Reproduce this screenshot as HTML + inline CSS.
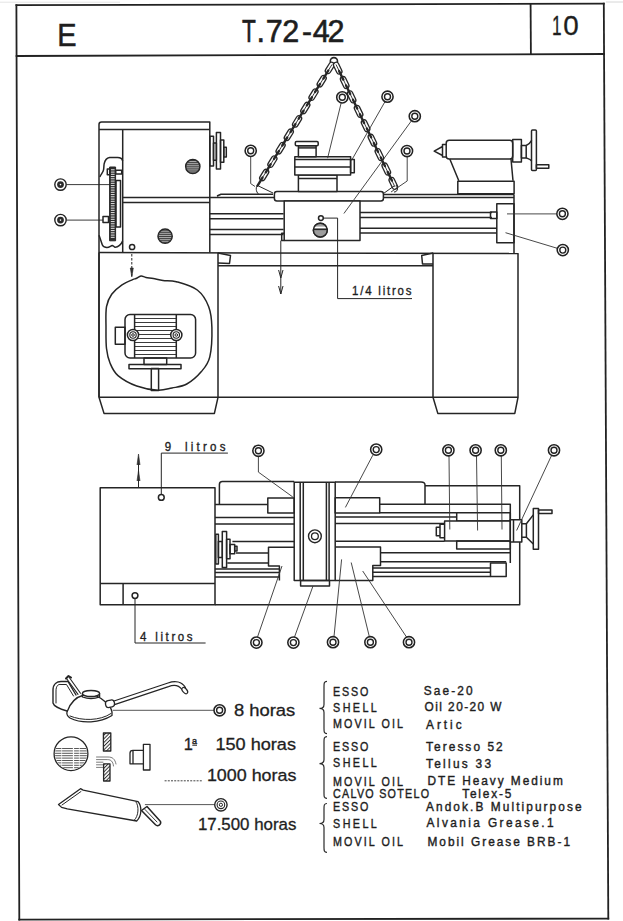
<!DOCTYPE html>
<html><head><meta charset="utf-8">
<style>
html,body{margin:0;padding:0;background:#fff;width:623px;height:921px;overflow:hidden}
svg{display:block}
text{font-family:"Liberation Sans",sans-serif;fill:#1e1e1e}
</style></head><body>
<svg width="623" height="921" viewBox="0 0 623 921">
<defs>
<g id="op"><circle r="5.6" fill="#fff" stroke="#222" stroke-width="1.55"/><circle r="3" fill="none" stroke="#222" stroke-width="1.4"/></g>
<g id="gp"><circle r="5.7" fill="#fff" stroke="#222" stroke-width="1.4"/><circle r="3.4" fill="#2a2a2a"/><circle r="0.8" fill="#fff"/></g>
<clipPath id="c1"><circle cx="192.8" cy="166.5" r="7"/></clipPath>
<clipPath id="c2"><circle cx="165.1" cy="236.2" r="7"/></clipPath>
<pattern id="hd" width="2.6" height="2.6" patternUnits="userSpaceOnUse" patternTransform="rotate(-45)"><rect width="2.6" height="1.0" fill="#333"/></pattern>
<clipPath id="c3"><circle cx="320.3" cy="230.2" r="6.8"/></clipPath>
</defs>
<rect width="623" height="921" fill="#fff"/>
<g fill="none" stroke="#222" stroke-width="1.8" stroke-linecap="square">
<path d="M16.4,5.2 L603.8,3.6"/>
<path d="M16.4,5.2 L19.3,919.6"/>
<path d="M603.8,3.6 L608.3,918.6"/>
<path d="M19.3,919.6 L608.3,918.6"/>
<path d="M16.6,56 L604,54"/>
<path d="M530.6,3.8 L530.9,54.2"/>
</g>
<path d="M0,2.2 H120" stroke="#ddd" stroke-width="0.8"/>
<path d="M606,2 H623" stroke="#ccc" stroke-width="0.8"/>

<text transform="translate(57.32,45.6) scale(0.95,1)" font-size="30.5" stroke="#1e1e1e" stroke-width="0.5">E</text>
<text transform="translate(241.89,42.4) scale(0.72,1)" font-size="31.5" stroke="#1e1e1e" stroke-width="0.6">T</text>
<text transform="translate(256.41,42.4) scale(0.97,1)" font-size="31.5" stroke="#1e1e1e" stroke-width="0.6">.</text>
<text transform="translate(265.73,42.4) scale(0.97,1)" font-size="31.5" stroke="#1e1e1e" stroke-width="0.6">7</text>
<text transform="translate(282.36,42.4) scale(0.97,1)" font-size="31.5" stroke="#1e1e1e" stroke-width="0.6">2</text>
<text transform="translate(301.97,42.4) scale(0.95,1)" font-size="31.5" stroke="#1e1e1e" stroke-width="0.6">-</text>
<text transform="translate(312.70,42.4) scale(0.97,1)" font-size="31.5" stroke="#1e1e1e" stroke-width="0.6">4</text>
<text transform="translate(327.56,42.4) scale(0.97,1)" font-size="31.5" stroke="#1e1e1e" stroke-width="0.6">2</text>
<text transform="translate(551.99,35.2) scale(0.62,1)" font-size="27.8" stroke="#1e1e1e" stroke-width="0.3">1</text>
<text transform="translate(563.21,35.2) scale(1.0,1)" font-size="27.8" stroke="#1e1e1e" stroke-width="0.3">0</text>
<g fill="none" stroke="#252525" stroke-width="1.5" stroke-linejoin="round">
<path d="M99,397 V124.5 Q99,122 101.5,122 H209.8 V252.6"/>
<path d="M99,129.4 H209.8 M122.7,129.4 V252.6 M122.5,197.5 H209.8 M122.5,202.5 H209.8"/>
<circle cx="192.8" cy="166.5" r="7.1" fill="#a8a8a8"/>
<g clip-path="url(#c1)" stroke="#333"><path d="M184.8,160.5H200.8M184.8,162.6H200.8M184.8,164.7H200.8M184.8,166.8H200.8M184.8,168.9H200.8M184.8,171.0H200.8M184.8,173.1H200.8" stroke-width="0.9"/></g>
<circle cx="165.1" cy="236.2" r="7.1" fill="#a8a8a8"/>
<g clip-path="url(#c2)" stroke="#333"><path d="M157.1,230.2H173.1M157.1,232.3H173.1M157.1,234.4H173.1M157.1,236.5H173.1M157.1,238.6H173.1M157.1,240.7H173.1M157.1,242.8H173.1" stroke-width="0.9"/></g>
<circle cx="132.1" cy="247" r="2.6"/>
<path d="M131.8,254 V276" stroke-width="1.0" stroke-dasharray="2.5 1.5"/><path d="M131.8,277 L130.3,268 L133.3,268 Z" fill="#333" stroke-width="0.6"/>
<path d="M99.8,177 C101,174 103.4,172 103.6,169.6 C104,167 103.8,165 104.2,163.6 C105,160 107,158 109.6,157.5 H117.6 C120.5,157.5 122.3,159 122.6,161 M122.6,241 C121.5,244 118,247.5 114.9,247.2 C113.5,246.8 113,245.3 112.3,245.5 C110.5,246 109,247.8 106.6,247.5 C104,247 102.5,246 102.1,244.3 C101,241 100,238 99,235.3"/>
<rect x="109.6" y="167" width="6" height="73.8" fill="#2e2e2e" stroke-width="1.0"/>
<g stroke="#fff"><path d="M110.8,169.8H114.6M110.8,172.1H114.6M110.8,174.3H114.6M110.8,176.6H114.6M110.8,178.8H114.6M110.8,181.1H114.6M110.8,183.3H114.6M110.8,185.6H114.6M110.8,187.8H114.6M110.8,190.1H114.6M110.8,192.3H114.6M110.8,194.6H114.6M110.8,196.8H114.6M110.8,199.1H114.6M110.8,201.3H114.6M110.8,203.6H114.6M110.8,205.8H114.6M110.8,208.1H114.6M110.8,210.3H114.6M110.8,212.6H114.6M110.8,214.8H114.6M110.8,217.1H114.6M110.8,219.3H114.6M110.8,221.6H114.6M110.8,223.8H114.6M110.8,226.1H114.6M110.8,228.3H114.6M110.8,230.6H114.6M110.8,232.8H114.6M110.8,235.1H114.6M110.8,237.3H114.6" stroke-width="0.9"/></g>
<rect x="107.3" y="168.9" width="2.7" height="5.8"/><rect x="115.7" y="170.2" width="6" height="3.8"/>
<rect x="116" y="180.5" width="4.5" height="46.5"/>
<rect x="103" y="216.5" width="5.5" height="6"/>
<path d="M66.5,184.6 H110 M66.5,220.1 H103" stroke-width="0.9"/>
<rect x="209.9" y="136.2" width="3.6" height="29.9"/><rect x="213.5" y="143" width="2.9" height="17.3"/><rect x="216.4" y="132.4" width="4.1" height="36.6"/><rect x="220.5" y="140.1" width="3.3" height="22.1"/><rect x="223.8" y="147.2" width="2.5" height="9.9"/>
<path d="M209.8,197.6 H275 M217,196 L221,194.2 H273"/>
<path d="M209.8,213.7 H283.6 M209.8,218.7 H283.6 M209.8,229.4 H283.6 M209.8,234.4 H283.6"/>
<path d="M360,212.6 H492 M360,217.6 H492 M360,228.3 H497 M360,232.9 H497"/>
<path d="M383,194.5 H514 M383,197.4 H514 M514,194.5 V253.5"/>
<rect x="496.8" y="203.8" width="17.2" height="39"/>
<rect x="490.5" y="212" width="6.3" height="6.5"/>
<path d="M99,252.6 L518.5,253.5"/>
<rect x="274.4" y="191.6" width="109" height="9.4" rx="2.5" fill="#fff"/>
<rect x="284.2" y="201" width="75.8" height="39.6" fill="#fff"/>
<path d="M284.2,233.3 H281.7 V240.6 H284.2"/>
<rect x="298.4" y="174.9" width="38.6" height="16.7" fill="#fff"/><path d="M298.4,178.4 H337"/>
<rect x="294.8" y="156.7" width="55.8" height="18.2" fill="#fff"/><path d="M294.8,159.5 H350.6 M294.8,167.1 H350.6"/>
<rect x="350.6" y="159.6" width="3.7" height="13.2"/>
<rect x="298.4" y="145.7" width="17.7" height="11"/><path d="M298.4,147.9 H316.1"/>
<rect x="295.3" y="141.5" width="22.9" height="4.2" rx="1.2" fill="#fff"/>
<circle cx="320.9" cy="218.1" r="2.4"/>
<circle cx="320.3" cy="230.2" r="6.9" fill="#fff"/>
<circle cx="320.3" cy="230.2" r="6.9" fill="#9c9c9c" stroke="none"/><rect x="312" y="226.6" width="17" height="1.6" fill="#fff" stroke="none"/><path d="M313,229.4 H328" stroke-width="1.4"/><circle cx="320.3" cy="230.2" r="6.9"/>
<path d="M323.5,218.1 H337.6 V298.6 H412" stroke-width="1.0"/>
<path d="M280.8,240.6 V294 M278.6,270 L280.8,278 L283,270 M278.6,286 L280.8,294 L283,286" stroke-width="1.0"/>
<rect x="446.2" y="140.2" width="66.5" height="18.8" rx="3"/>
<path d="M446.2,144.5 H442.5 V157 H446.2 M442.5,146.5 L434.2,151.2 L442.5,155.5"/>
<rect x="512.7" y="139.6" width="8.7" height="22.4"/>
<rect x="521.4" y="145.5" width="4.8" height="12.4"/>
<path d="M526.2,145.5 C529,144.5 530.5,142.5 531.7,140.4 M526.2,157.9 C529,159 530.5,159.5 531.7,161"/>
<rect x="531.5" y="130" width="4.9" height="40.6" rx="1"/>
<rect x="536.4" y="164.8" width="12.4" height="3.5"/>
<path d="M449.8,159 L458.8,180.8 M511,159 L513,180.8"/>
<rect x="457.8" y="181.3" width="56.3" height="12.4"/>
<path d="M99,252.6 V397.3 H218 V252.8 M218,265.7 H433 M433,252.8 V397.3 H518 V253.5 M218,397.3 H433"/>
<path d="M99,397.3 L104,413.4 H214.4 L218,397.3 M433,397.3 L437.8,413.4 H514.8 L518,397.3"/>
<path d="M218,253 L230.5,255.5 L229.5,263.5 L218,263 M433,253 L421.7,255.5 L422.5,264 L433,264"/>
<path d="M106.5,306.7 C105.5,312.3 106.0,321.0 106.0,328.0 C106.0,335.0 105.8,342.7 106.5,348.5 C107.2,354.3 108.1,358.5 110.0,363.0 C111.9,367.5 113.5,371.8 118.0,375.6 C122.5,379.4 130.1,383.6 136.7,386.0 C143.3,388.4 151.7,389.9 157.6,390.2 C163.5,390.5 167.1,389.0 172.0,388.0 C176.9,387.0 181.9,386.8 186.8,384.0 C191.7,381.2 197.6,376.0 201.4,371.5 C205.2,367.0 208.1,364.1 209.8,356.8 C211.6,349.5 212.1,336.0 211.9,327.6 C211.7,319.2 211.1,313.0 208.7,306.7 C206.3,300.4 202.7,294.2 197.3,290.0 C191.9,285.8 182.1,283.3 176.4,281.7 C170.7,280.1 166.8,281.0 163.0,280.5 C159.2,280.0 156.2,279.1 153.4,278.6 C150.6,278.1 148.1,277.9 146.0,277.5 C143.9,277.1 142.7,275.8 141.0,276.0 C139.3,276.2 137.4,277.9 136.0,278.5 C134.6,279.1 134.9,278.6 132.6,279.6 C130.3,280.7 125.5,282.4 122.0,284.8 C118.5,287.2 114.3,290.6 111.7,294.2 C109.1,297.8 107.5,301.1 106.5,306.7Z"/>
<rect x="125" y="314.5" width="70.6" height="43.5" rx="5" fill="#fff"/>
<rect x="115.3" y="327.3" width="9.7" height="17"/>
<path d="M134.6,318.5H176.3M134.6,322.5H176.3M134.6,326.5H176.3M134.6,330.5H176.3M134.6,334.5H176.3M134.6,338.5H176.3M134.6,342.5H176.3M134.6,346.5H176.3M134.6,350.5H176.3M134.6,354.5H176.3" stroke-width="0.9"/>
<path d="M134.6,314.5 V358 M176.3,314.5 V358"/>
<circle cx="133" cy="335" r="5.6" fill="#fff"/><circle cx="133" cy="335" r="3.2" stroke-width="1.1"/><circle cx="133" cy="335" r="1.3" stroke-width="1.0"/><circle cx="176.3" cy="335" r="5.6" fill="#fff"/><circle cx="176.3" cy="335" r="3.2" stroke-width="1.1"/><circle cx="176.3" cy="335" r="1.3" stroke-width="1.0"/>
<rect x="144" y="358" width="22.7" height="6.6"/><rect x="129" y="364.4" width="52" height="4.3"/><rect x="151.3" y="368.4" width="7.3" height="22"/>
</g>
<g fill="none" stroke="#262626" stroke-width="1.1">
<circle cx="333.9" cy="61.2" r="3.6" stroke-width="1.6"/>
<rect x="323.9" y="65.1" width="12.2" height="5.4" rx="2.6" stroke-width="1.3" fill="#fff" transform="rotate(121.6 329.9 67.8)"/>
<path d="M332.0,64.5 L327.9,71.2" stroke-width="0.9"/>
<rect x="315.6" y="78.5" width="12.2" height="5.4" rx="2.6" stroke-width="1.3" fill="#fff" transform="rotate(121.6 321.7 81.2)"/>
<path d="M323.8,77.9 L319.7,84.6" stroke-width="0.9"/>
<rect x="307.4" y="91.9" width="12.2" height="5.4" rx="2.6" stroke-width="1.3" fill="#fff" transform="rotate(121.6 313.5 94.6)"/>
<path d="M315.5,91.3 L311.5,97.9" stroke-width="0.9"/>
<rect x="299.2" y="105.3" width="12.2" height="5.4" rx="2.6" stroke-width="1.3" fill="#fff" transform="rotate(121.6 305.3 108.0)"/>
<path d="M307.3,104.7 L303.2,111.3" stroke-width="0.9"/>
<rect x="291.0" y="118.7" width="12.2" height="5.4" rx="2.6" stroke-width="1.3" fill="#fff" transform="rotate(121.6 297.1 121.4)"/>
<path d="M299.1,118.1 L295.0,124.7" stroke-width="0.9"/>
<rect x="282.7" y="132.1" width="12.2" height="5.4" rx="2.6" stroke-width="1.3" fill="#fff" transform="rotate(121.6 288.8 134.8)"/>
<path d="M290.9,131.5 L286.8,138.1" stroke-width="0.9"/>
<rect x="274.5" y="145.5" width="12.2" height="5.4" rx="2.6" stroke-width="1.3" fill="#fff" transform="rotate(121.6 280.6 148.2)"/>
<path d="M282.7,144.9 L278.6,151.5" stroke-width="0.9"/>
<rect x="266.3" y="158.9" width="12.2" height="5.4" rx="2.6" stroke-width="1.3" fill="#fff" transform="rotate(121.6 272.4 161.6)"/>
<path d="M274.4,158.2 L270.3,164.9" stroke-width="0.9"/>
<rect x="258.1" y="172.3" width="12.2" height="5.4" rx="2.6" stroke-width="1.3" fill="#fff" transform="rotate(121.6 264.2 175.0)"/>
<path d="M266.2,171.6 L262.1,178.3" stroke-width="0.9"/>
<path d="M328.3,70.5 L323.4,78.6" stroke-width="2.4" stroke-linecap="round"/>
<path d="M320.1,83.9 L315.1,91.9" stroke-width="2.4" stroke-linecap="round"/>
<path d="M311.9,97.3 L306.9,105.3" stroke-width="2.4" stroke-linecap="round"/>
<path d="M303.6,110.7 L298.7,118.7" stroke-width="2.4" stroke-linecap="round"/>
<path d="M295.4,124.1 L290.5,132.1" stroke-width="2.4" stroke-linecap="round"/>
<path d="M287.2,137.5 L282.3,145.5" stroke-width="2.4" stroke-linecap="round"/>
<path d="M279.0,150.9 L274.0,158.9" stroke-width="2.4" stroke-linecap="round"/>
<path d="M270.7,164.2 L265.8,172.3" stroke-width="2.4" stroke-linecap="round"/>
<path d="M262.5,177.6 L257.6,185.7" stroke-width="2.4" stroke-linecap="round"/>
<rect x="331.5" y="65.4" width="12.4" height="5.4" rx="2.6" stroke-width="1.3" fill="#fff" transform="rotate(64.3 337.7 68.1)"/>
<path d="M336.0,64.5 L339.5,71.7" stroke-width="0.9"/>
<rect x="338.5" y="79.8" width="12.4" height="5.4" rx="2.6" stroke-width="1.3" fill="#fff" transform="rotate(64.3 344.7 82.5)"/>
<path d="M343.0,78.9 L346.4,86.1" stroke-width="0.9"/>
<rect x="345.4" y="94.2" width="12.4" height="5.4" rx="2.6" stroke-width="1.3" fill="#fff" transform="rotate(64.3 351.6 96.9)"/>
<path d="M349.9,93.4 L353.3,100.5" stroke-width="0.9"/>
<rect x="352.4" y="108.6" width="12.4" height="5.4" rx="2.6" stroke-width="1.3" fill="#fff" transform="rotate(64.3 358.6 111.3)"/>
<path d="M356.8,107.8 L360.3,114.9" stroke-width="0.9"/>
<rect x="359.3" y="123.0" width="12.4" height="5.4" rx="2.6" stroke-width="1.3" fill="#fff" transform="rotate(64.3 365.5 125.8)"/>
<path d="M363.8,122.2 L367.2,129.3" stroke-width="0.9"/>
<rect x="366.2" y="137.5" width="12.4" height="5.4" rx="2.6" stroke-width="1.3" fill="#fff" transform="rotate(64.3 372.4 140.2)"/>
<path d="M370.7,136.6 L374.2,143.7" stroke-width="0.9"/>
<rect x="373.2" y="151.9" width="12.4" height="5.4" rx="2.6" stroke-width="1.3" fill="#fff" transform="rotate(64.3 379.4 154.6)"/>
<path d="M377.7,151.0 L381.1,158.1" stroke-width="0.9"/>
<rect x="380.1" y="166.3" width="12.4" height="5.4" rx="2.6" stroke-width="1.3" fill="#fff" transform="rotate(64.3 386.3 169.0)"/>
<path d="M384.6,165.4 L388.0,172.6" stroke-width="0.9"/>
<rect x="387.1" y="180.7" width="12.4" height="5.4" rx="2.6" stroke-width="1.3" fill="#fff" transform="rotate(64.3 393.3 183.4)"/>
<path d="M391.5,179.8 L395.0,187.0" stroke-width="0.9"/>
<path d="M339.1,71.0 L343.3,79.6" stroke-width="2.4" stroke-linecap="round"/>
<path d="M346.1,85.4 L350.2,94.0" stroke-width="2.4" stroke-linecap="round"/>
<path d="M353.0,99.8 L357.2,108.5" stroke-width="2.4" stroke-linecap="round"/>
<path d="M359.9,114.2 L364.1,122.9" stroke-width="2.4" stroke-linecap="round"/>
<path d="M366.9,128.6 L371.1,137.3" stroke-width="2.4" stroke-linecap="round"/>
<path d="M373.8,143.0 L378.0,151.7" stroke-width="2.4" stroke-linecap="round"/>
<path d="M380.8,157.5 L384.9,166.1" stroke-width="2.4" stroke-linecap="round"/>
<path d="M387.7,171.9 L391.9,180.5" stroke-width="2.4" stroke-linecap="round"/>
<path d="M258.5,183.5 C255,187 256,192 258.5,194 M258.5,186 L273,193 M394,186 L383.5,193.5 M396,185 C399,189 397,192 394,192" stroke-width="1.0"/>
</g>
<g fill="none" stroke="#333" stroke-width="0.9">
<path d="M250.7,156.5 V183.6 L255,186.5"/>
<path d="M341.2,102.8 L327.6,158.2"/>
<path d="M384.9,101.8 L351.6,160.3"/>
<path d="M411.8,120.3 L343.9,213.5"/>
<path d="M407.2,156.6 V181 L391,192"/>
<path d="M556.5,213.9 H507"/>
<path d="M557.3,248.3 L505.5,232.7"/>
</g>
<use href="#op" x="250.7" y="150.8"/>
<use href="#op" x="342.3" y="97.3"/>
<use href="#op" x="387.5" y="96.7"/>
<use href="#op" x="414.8" y="116.2"/>
<use href="#op" x="407" y="151"/>
<use href="#op" x="562.4" y="213.8"/>
<use href="#op" x="562.8" y="250.1"/>
<use href="#gp" x="60.5" y="184.6"/>
<use href="#gp" x="60.5" y="220.1"/>
<text transform="translate(351.98,295.4) scale(0.86,1)" x="0" y="0" font-size="13.3" textLength="69.2" lengthAdjust="spacing" stroke="#1e1e1e" stroke-width="0.35">1/4 litros</text>
<g fill="none" stroke="#252525" stroke-width="1.5" stroke-linejoin="round">
<rect x="100.2" y="487.8" width="114.8" height="117"/>
<path d="M100.2,583.5 H215 M123.1,583.5 V604.8"/>
<path d="M215,604.8 H519.7 V485.7 H425 M425,503.9 V485 Q425,481.9 421,481.9 H335 M294.2,481.6 H222.4 Q219.4,481.6 219.4,484.6 V503.9"/>
<rect x="294.2" y="482.2" width="41" height="98.4" fill="#fff"/>
<path d="M300.2,482.2 V580.6 M303.3,482.2 V580.6 M326.4,482.2 V580.6 M329.1,482.2 V580.6"/>
<rect x="300.6" y="580.6" width="28.9" height="5.4"/>
<path d="M215,504.6 H267.8 M215,517.6 H294.2 M215,524.1 H294.2 M232.4,541.5 H294.2 M236,553 H268.5 M227.3,562.9 H268.5 M215,569 H279.4 M215,572.6 H279.4 M215,576.9 H279.4"/>
<rect x="267.8" y="498.1" width="26.4" height="14.8"/>
<path d="M294.2,547.3 H268.5 V566 H279.4 V580.6"/>
<rect x="215.8" y="534.2" width="2.6" height="29.7" fill="#fff"/><rect x="218.4" y="541.5" width="3.9" height="15.9"/><rect x="222.3" y="531.4" width="4.3" height="36.1" fill="#fff"/><rect x="226.6" y="539.3" width="3.4" height="19.5"/><rect x="230" y="544.4" width="4.7" height="9.4"/><rect x="234.7" y="546.3" width="2.3" height="4.8"/>
<rect x="335.2" y="497.8" width="44.5" height="15.2"/>
<path d="M379.7,504.3 H510.3 V562.9 M379.7,512.8 H456.7 M335.2,516.9 H456.7 M335.2,523.4 H444.6 M335.2,541.3 H444.6"/>
<path d="M335.2,547 H380.5 V565.4 H372.8 V580.6 H335.2"/>
<path d="M380.5,552.8 H510.3 M380.5,561.8 H506.2 M372.8,568 H490.5 M372.8,572.2 H490.5 M372.8,576.4 H490.5"/>
<rect x="490.5" y="562.9" width="15.7" height="13.5"/>
<rect x="456.7" y="512.8" width="53.6" height="8.3"/><rect x="444.6" y="521.1" width="65.7" height="19.9" fill="#fff"/><rect x="456.7" y="541" width="53.6" height="7.9"/>
<path d="M444.6,524.3 H440 V537.8 H444.6 M440,527.3 H436.3 V535.8 H440"/>
<rect x="510.3" y="519.7" width="11.5" height="22.3" fill="#fff"/><path d="M513.5,519.7 V542"/>
<path d="M521.8,523.8 H526.4 L533.3,514.9 M521.8,537.2 H526.4 L533.3,544 M526.4,523.8 V537.2"/>
<rect x="533.3" y="508.6" width="5.2" height="40.7"/><rect x="538.5" y="510" width="13.5" height="3.4"/>
<circle cx="161.3" cy="497.4" r="2.9"/><circle cx="135" cy="595.6" r="2.9"/>
<path d="M161.3,494.5 V453.1 H227.9 M135,598.5 V643 H205.6" stroke-width="1.0"/>
<path d="M138.5,487 V458" stroke-width="1.0"/><path d="M138.5,454 L140,465 L138.5,463.5 L137,465 Z M138.5,470.5 L140,481 L138.5,479.5 L137,481 Z" fill="#333" stroke-width="0.6"/>
</g>
<g fill="none" stroke="#333" stroke-width="0.9">
<path d="M258.4,456.6 V472.1 L292.8,497"/>
<path d="M372.8,455.2 L345.4,507.4"/>
<path d="M449,456 L449.8,529.5 M476.5,456 L477.6,530.5 M501.3,456 L502,529.5 M551.3,456 L516.6,530.5"/>
<path d="M334,636.5 L341.6,559.4 M369.3,636.5 L351.2,562.5 M406.5,637 L362.7,571"/>
<path d="M294.5,637 L313,586 M257.5,637 L282,566"/>
</g>
<use href="#op" x="258.4" y="450.8"/>
<use href="#op" x="376.2" y="449.6"/>
<use href="#op" x="448.4" y="450.3"/>
<use href="#op" x="475.6" y="450.3"/>
<use href="#op" x="500.8" y="450.3"/>
<use href="#op" x="554" y="450.3"/>
<use href="#op" x="256.4" y="642.6"/>
<use href="#op" x="293.4" y="642.6"/>
<use href="#op" x="333" y="642.2"/>
<use href="#op" x="370.4" y="642.2"/>
<use href="#op" x="409" y="642.2"/>
<circle cx="314.9" cy="536.3" r="6.4" fill="#fff" stroke="#252525" stroke-width="1.4"/><circle cx="314.9" cy="536.3" r="3.4" fill="none" stroke="#252525" stroke-width="1.3"/>
<text transform="translate(164.76,451.2) scale(0.9,1)" x="0" y="0" font-size="12.8" textLength="9.0" lengthAdjust="spacing" stroke="#1e1e1e" stroke-width="0.35">9</text>
<text transform="translate(184.96,451.2) scale(0.9,1)" x="0" y="0" font-size="12.8" textLength="45.0" lengthAdjust="spacing" stroke="#1e1e1e" stroke-width="0.35">litros</text>
<text transform="translate(139.96,641.3) scale(0.9,1)" x="0" y="0" font-size="12.8" textLength="7.4" lengthAdjust="spacing" stroke="#1e1e1e" stroke-width="0.35">4</text>
<text transform="translate(155.36,641.3) scale(0.9,1)" x="0" y="0" font-size="12.8" textLength="41.3" lengthAdjust="spacing" stroke="#1e1e1e" stroke-width="0.35">litros</text>
<g fill="none" stroke="#252525" stroke-width="1.3" stroke-linejoin="round" stroke-linecap="round">
<path d="M67,712 C70,703 76,697 84,695 C92,693 100,697 105.5,702 C110,706 113,710 112,715.5 C100,723 82,724 70,718 C67,716 66.5,714 67,712 Z" fill="#fff"/>
<path d="M70,716 C82,721 100,721 111,713.5" stroke-width="1.0"/>
<ellipse cx="91" cy="693.5" rx="8.6" ry="3" fill="#fff"/><path d="M82.4,693.5 V697 Q91,700 99.6,697 V693.5"/>
<path d="M67,711 C60,709 54,707 53,703 V690 C53,684 57,681.5 61,681.5 H68 L76,695" stroke-width="1.4"/>
<path d="M56,703 V691 C56,686 58,684 61,684.5 H66.5 L73.5,696" stroke-width="1.0"/>
<path d="M66.5,678.5 L78,694.4 M69.3,677.5 L80.5,693.2" stroke-width="1.1"/><path d="M66,678.5 L68.5,676 L71,677.5" stroke-width="2"/>
<rect x="105.5" y="700.3" width="9" height="6.9" rx="3" fill="#fff" transform="rotate(-12 110 703.7)"/>
<path d="M114,701 L168,683 C175,680.5 182,681.5 185.5,687.5 M114.5,704.6 L168.5,686.6 C174,684.5 179,685.5 182,689.5" stroke-width="1.2"/>
<ellipse cx="184.8" cy="690.6" rx="3.6" ry="2.1" transform="rotate(50 184.8 690.6)" fill="#fff" stroke-width="1.2"/>
<path d="M113.2,710.3 H214 M145.3,804.6 H214.6" stroke-width="0.9" stroke="#444"/>
<circle cx="71" cy="753.7" r="16.9" fill="#fff"/>
<clipPath id="c4"><circle cx="71" cy="753.7" r="16"/></clipPath>
<g clip-path="url(#c4)" stroke="#444" stroke-dasharray="7 1.5 10 2 4 1.5"><path d="M54,748.5H88M54,750.9H88M54,753.3H88M54,755.7H88M54,758.1H88M54,760.5H88M54,762.9H88M54,765.3H88M54,767.7H88" stroke-width="0.9"/></g>
<rect x="103.4" y="733" width="7.4" height="18" fill="url(#hd)"/><rect x="103.6" y="763.8" width="6.4" height="17.2" fill="url(#hd)"/>
<path d="M96.5,757 H108 C112.5,757 115,759 116,764 M96.5,759.6 H107.5 C111,759.6 113,761.5 113.5,766 M96.5,762.2 H103 M96.5,764.8 H103 M96.5,767.4 H103" stroke-width="0.7" stroke="#444"/>
<rect x="143.4" y="744.3" width="6.6" height="25.7"/><path d="M143.4,750.3 H133 Q130,750.3 130,753 V763.8 H143.4 M133,750.3 V763.8" />
<path d="M165,780.8 H203" stroke-width="1.0" stroke-dasharray="1.2 2" stroke="#444"/>
<path d="M58.5,804.5 L80.5,788.7 L83.2,790.1 L138.1,801.7 C142,806 142,816 136.7,821 L67.3,808.9 L61.6,807.4 Z" fill="#fff"/>
<path d="M62,805 L81,791.5" stroke-width="1.0"/>
<path d="M136,802 C139,806 139,816 134,820.5" stroke-width="1.0"/>
<path d="M141.5,810.5 L155.5,824.8 C157.8,827 161.5,824.5 160.5,821.5 L147,806.5 Z" fill="#fff" stroke-width="1.5"/><path d="M145,809.5 L157,822" stroke-width="0.9"/>
</g>
<use href="#op" x="219.6" y="710.3"/>
<g><circle cx="220.9" cy="804.8" r="6.2" fill="#fff" stroke="#252525" stroke-width="1.4"/><circle cx="220.9" cy="804.8" r="3.8" fill="none" stroke="#252525" stroke-width="1.1"/><circle cx="220.9" cy="804.8" r="1.6" fill="none" stroke="#252525" stroke-width="1.0"/></g>
<text x="233.9" y="716" font-size="16.3" textLength="61.3" lengthAdjust="spacingAndGlyphs" stroke="#1e1e1e" stroke-width="0.3">8 horas</text>
<text x="183.8" y="749.8" font-size="16.3" textLength="9.1" lengthAdjust="spacingAndGlyphs" stroke="#1e1e1e" stroke-width="0.3">1</text>
<text x="192" y="743.5" font-size="9" stroke="#1e1e1e" stroke-width="0.4">a</text><path d="M192.3,745.2 H197" stroke="#1e1e1e" stroke-width="1"/>
<text x="215.4" y="749.8" font-size="16.3" textLength="80.6" lengthAdjust="spacingAndGlyphs" stroke="#1e1e1e" stroke-width="0.3">150 horas</text>
<text x="206.9" y="781.4" font-size="16.3" textLength="89.5" lengthAdjust="spacingAndGlyphs" stroke="#1e1e1e" stroke-width="0.3">1000 horas</text>
<text x="197.9" y="830.2" font-size="16.3" textLength="98.5" lengthAdjust="spacingAndGlyphs" stroke="#1e1e1e" stroke-width="0.3">17.500 horas</text>
<path d="M327,681.4 C324,681.4 324,683.4 324,686.4 V704.4 C324,706.9 322,708.4 319.5,708.4 C322,708.4 324,709.9 324,712.4 V728.6 C324,731.6 324,733.6 327,733.6" fill="none" stroke="#2a2a2a" stroke-width="1.2"/>
<path d="M327,736.6 C324,736.6 324,738.6 324,741.6 V759.6 C324,762.1 322,763.6 319.5,763.6 C322,763.6 324,765.1 324,767.6 V793.4 C324,796.4 324,798.4 327,798.4" fill="none" stroke="#2a2a2a" stroke-width="1.2"/>
<path d="M327,803.5 C324,803.5 324,805.5 324,808.5 V819.5 C324,822.0 322,823.5 319.5,823.5 C322,823.5 324,825.0 324,827.5 V847.3 C324,850.3 324,852.3 327,852.3" fill="none" stroke="#2a2a2a" stroke-width="1.2"/>
<text transform="translate(333.08,695.5) scale(0.86,1)" x="0" y="0" font-size="12.5" textLength="40.9" lengthAdjust="spacing" stroke="#1e1e1e" stroke-width="0.4">ESSO</text>
<text transform="translate(333.08,711.5) scale(0.86,1)" x="0" y="0" font-size="12.5" textLength="50.8" lengthAdjust="spacing" stroke="#1e1e1e" stroke-width="0.4">SHELL</text>
<text transform="translate(333.08,728.4) scale(0.86,1)" x="0" y="0" font-size="12.5" textLength="81.2" lengthAdjust="spacing" stroke="#1e1e1e" stroke-width="0.4">MOVIL OIL</text>
<text transform="translate(333.08,751.3) scale(0.86,1)" x="0" y="0" font-size="12.5" textLength="40.9" lengthAdjust="spacing" stroke="#1e1e1e" stroke-width="0.4">ESSO</text>
<text transform="translate(333.08,767.4) scale(0.86,1)" x="0" y="0" font-size="12.5" textLength="50.8" lengthAdjust="spacing" stroke="#1e1e1e" stroke-width="0.4">SHELL</text>
<text transform="translate(333.08,785.5) scale(0.86,1)" x="0" y="0" font-size="12.5" textLength="81.2" lengthAdjust="spacing" stroke="#1e1e1e" stroke-width="0.4">MOVIL OIL</text>
<text transform="translate(333.08,811.2) scale(0.86,1)" x="0" y="0" font-size="12.5" textLength="40.9" lengthAdjust="spacing" stroke="#1e1e1e" stroke-width="0.4">ESSO</text>
<text transform="translate(333.08,827.9) scale(0.86,1)" x="0" y="0" font-size="12.5" textLength="50.8" lengthAdjust="spacing" stroke="#1e1e1e" stroke-width="0.4">SHELL</text>
<text transform="translate(333.08,845.9) scale(0.86,1)" x="0" y="0" font-size="12.5" textLength="81.2" lengthAdjust="spacing" stroke="#1e1e1e" stroke-width="0.4">MOVIL OIL</text>
<text transform="translate(423.63,695.2) scale(0.95,1)" x="0" y="0" font-size="12.5" textLength="51.6" lengthAdjust="spacing" stroke="#1e1e1e" stroke-width="0.4">Sae-20</text>
<text transform="translate(424.53,711.1) scale(0.95,1)" x="0" y="0" font-size="12.5" textLength="81.1" lengthAdjust="spacing" stroke="#1e1e1e" stroke-width="0.4">Oil 20-20 W</text>
<text transform="translate(426.03,728.5) scale(0.95,1)" x="0" y="0" font-size="12.5" textLength="37.5" lengthAdjust="spacing" stroke="#1e1e1e" stroke-width="0.4">Artic</text>
<text transform="translate(426.03,750.7) scale(0.95,1)" x="0" y="0" font-size="12.5" textLength="80.7" lengthAdjust="spacing" stroke="#1e1e1e" stroke-width="0.4">Teresso 52</text>
<text transform="translate(426.03,767.5) scale(0.95,1)" x="0" y="0" font-size="12.5" textLength="68.5" lengthAdjust="spacing" stroke="#1e1e1e" stroke-width="0.4">Tellus 33</text>
<text transform="translate(427.43,785) scale(0.95,1)" x="0" y="0" font-size="12.5" textLength="142.5" lengthAdjust="spacing" stroke="#1e1e1e" stroke-width="0.4">DTE Heavy Medium</text>
<text transform="translate(426.03,810.5) scale(0.95,1)" x="0" y="0" font-size="12.5" textLength="163.7" lengthAdjust="spacing" stroke="#1e1e1e" stroke-width="0.4">Andok.B Multipurpose</text>
<text transform="translate(426.53,827.2) scale(0.95,1)" x="0" y="0" font-size="12.5" textLength="133.7" lengthAdjust="spacing" stroke="#1e1e1e" stroke-width="0.4">Alvania Grease.1</text>
<text transform="translate(427.43,845.7) scale(0.95,1)" x="0" y="0" font-size="12.5" textLength="150.1" lengthAdjust="spacing" stroke="#1e1e1e" stroke-width="0.4">Mobil Grease BRB-1</text>
<text transform="translate(462.13,798) scale(0.95,1)" x="0" y="0" font-size="12.5" textLength="51.9" lengthAdjust="spacing" stroke="#1e1e1e" stroke-width="0.4">Telex-5</text>
<text transform="translate(333.08,798.4) scale(0.86,1)" x="0" y="0" font-size="12.5" textLength="111.6" lengthAdjust="spacing" stroke="#1e1e1e" stroke-width="0.4">CALVO SOTELO</text>
</svg>
</body></html>
